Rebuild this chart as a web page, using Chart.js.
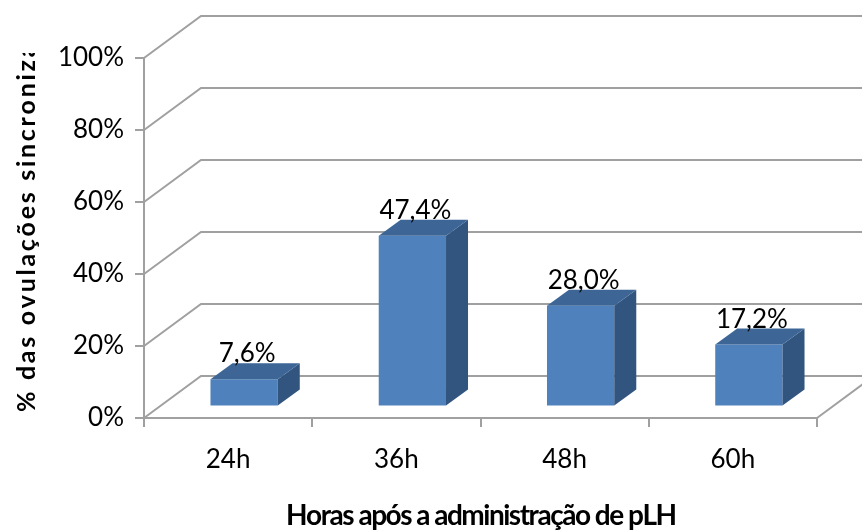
<!DOCTYPE html>
<html>
<head>
<meta charset="utf-8">
<script src="https://cdn.jsdelivr.net/npm/chart.js@4.4.1/dist/chart.umd.min.js"></script>
<style>
  html, body { margin: 0; padding: 0; background: #ffffff; }
  canvas { display: block; }
</style>
</head>
<body>
<canvas id="c" width="862" height="530"></canvas>
<script>
// ---- data ----
const categories = ['24h', '36h', '48h', '60h'];
const values = [7.6, 47.4, 28.0, 17.2];
const yTickValues = [0, 20, 40, 60, 80, 100];
const yTitle = '% das ovulações sincronizadas';
const xTitle = 'Horas após a administração de pLH';

// ---- styles ----
const GRID = '#a0a0a0';
const TEXT = '#000000';
const FRONT = '#4F81BD';
const TOP = '#3D6697';
const SIDE = '#32557F';
const WALL_DX = 57, WALL_DY = -42;   // depth of the 3D box
const BAR_OX = 16, BAR_OY = -11.5;   // bars' front plane offset
const BAR_DX = 22, BAR_DY = -16;     // bar depth

function fmt(v) { return v.toFixed(1).replace('.', ',') + '%'; }

function spacedText(ctx, text, x, y, targetWidth, count) {
  const chars = Array.from(text);
  const n = count || chars.length;
  let natural = 0;
  for (let i = 0; i < n; i++) natural += ctx.measureText(chars[i]).width;
  const extra = (targetWidth - natural) / (n - 1);
  let cx = x;
  for (const ch of chars) {
    ctx.fillText(ch, cx, y);
    cx += ctx.measureText(ch).width + extra;
  }
}

const plugin3d = {
  id: 'p3d',
  beforeDatasetsDraw(chart) {
    const { ctx, chartArea: a, scales: { y } } = chart;
    ctx.save();
    ctx.strokeStyle = GRID;
    ctx.lineWidth = 2;
    yTickValues.forEach(v => {
      const py = y.getPixelForValue(v);
      ctx.beginPath();
      ctx.moveTo(a.left, py);
      ctx.lineTo(a.left + WALL_DX, py + WALL_DY);
      ctx.lineTo(chart.width + 60, py + WALL_DY);
      ctx.stroke();
    });
    ctx.beginPath();
    ctx.moveTo(a.right, a.bottom);
    ctx.lineTo(a.right + WALL_DX, a.bottom + WALL_DY);
    ctx.stroke();
    ctx.restore();
    ctx.save();
    ctx.translate(BAR_OX, BAR_OY);
  },
  afterDatasetsDraw(chart) {
    const ctx = chart.ctx;
    const meta = chart.getDatasetMeta(0);
    meta.data.forEach(bar => {
      const { x, y, base, width } = bar.getProps(['x', 'y', 'base', 'width'], true);
      const l = x - width / 2, r = x + width / 2;
      ctx.fillStyle = SIDE;
      ctx.beginPath();
      ctx.moveTo(r, y);
      ctx.lineTo(r + BAR_DX, y + BAR_DY);
      ctx.lineTo(r + BAR_DX, base + BAR_DY);
      ctx.lineTo(r, base);
      ctx.closePath();
      ctx.fill();
      ctx.fillStyle = TOP;
      ctx.beginPath();
      ctx.moveTo(l, y);
      ctx.lineTo(l + BAR_DX, y + BAR_DY);
      ctx.lineTo(r + BAR_DX, y + BAR_DY);
      ctx.lineTo(r, y);
      ctx.closePath();
      ctx.fill();
    });
    ctx.restore();
    // value labels
    ctx.save();
    ctx.font = '26px Lato';
    ctx.fillStyle = TEXT;
    ctx.textAlign = 'center';
    ctx.textBaseline = 'alphabetic';
    meta.data.forEach((bar, i) => {
      ctx.fillText(fmt(values[i]), bar.x + BAR_OX + 3, bar.y + BAR_OY - 17);
    });
    ctx.restore();
  },
  afterDraw(chart) {
    const ctx = chart.ctx;
    // y axis title (clipped at top as in the reference)
    ctx.save();
    ctx.beginPath();
    ctx.rect(0, 53, 60, 477);
    ctx.clip();
    ctx.translate(35, 412);
    ctx.rotate(-Math.PI / 2);
    ctx.font = 'bold 25px Lato';
    ctx.fillStyle = TEXT;
    ctx.textAlign = 'left';
    ctx.textBaseline = 'alphabetic';
    spacedText(ctx, yTitle, 0, 0, 352, 25);
    ctx.restore();
    // x axis title
    ctx.save();
    ctx.font = 'bold 28px Lato';
    ctx.fillStyle = TEXT;
    ctx.textAlign = 'left';
    ctx.textBaseline = 'alphabetic';
    spacedText(ctx, xTitle, 286, 525, 391);
    ctx.restore();
  }
};

Chart.defaults.font.family = 'Lato';

new Chart(document.getElementById('c'), {
  type: 'bar',
  data: {
    labels: categories,
    datasets: [{
      data: values,
      backgroundColor: FRONT,
      borderWidth: 0,
      barPercentage: 0.4,
      categoryPercentage: 1.0
    }]
  },
  options: {
    responsive: false,
    animation: false,
    devicePixelRatio: 1,
    layout: { padding: { top: 58, right: 45, left: 0, bottom: 0 } },
    plugins: { legend: { display: false }, tooltip: { enabled: false } },
    scales: {
      x: {
        grid: { offset: true, drawOnChartArea: false, drawTicks: true, tickLength: 9, color: GRID, lineWidth: 2 },
        border: { color: GRID, width: 2 },
        ticks: { font: { size: 26 }, color: TEXT, padding: 17, maxRotation: 0 },
        afterFit(s) { s.height = 112; }
      },
      y: {
        min: 0, max: 100,
        afterBuildTicks(s) { s.ticks = yTickValues.map(v => ({ value: v })); },
        grid: { drawOnChartArea: false, drawTicks: true, tickLength: 9, color: GRID, lineWidth: 2 },
        border: { color: GRID, width: 2 },
        ticks: { font: { size: 26 }, color: TEXT, padding: 11, callback: v => v + '%' },
        afterFit(s) { s.width = 144; }
      }
    }
  },
  plugins: [plugin3d]
});
</script>
</body>
</html>
